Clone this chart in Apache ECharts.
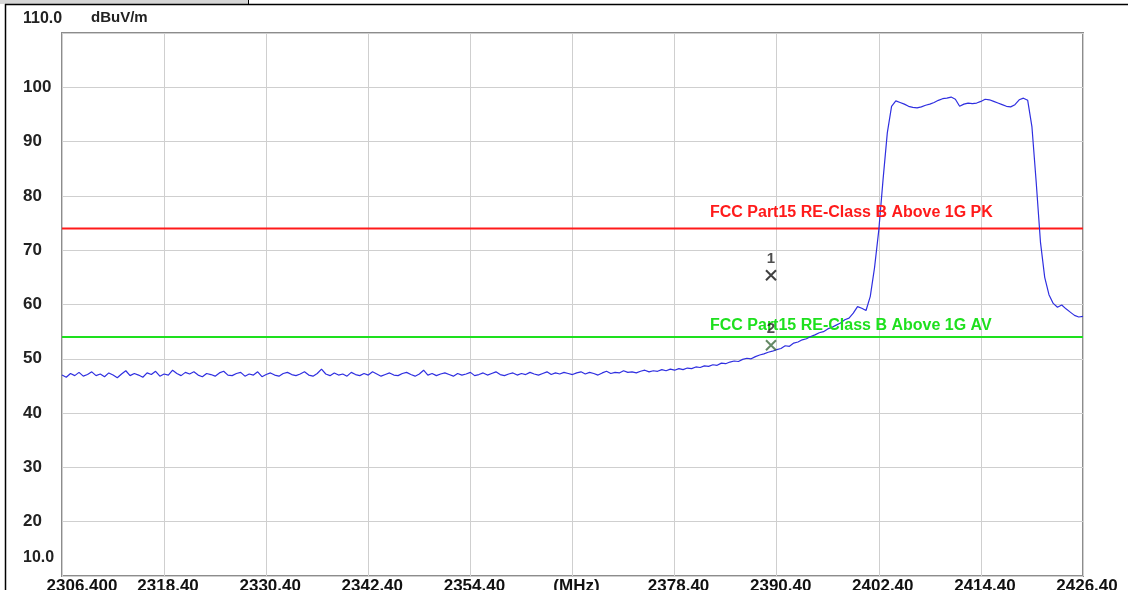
<!DOCTYPE html>
<html>
<head>
<meta charset="utf-8">
<title>FCC Part15 RE</title>
<script src="https://cdn.jsdelivr.net/npm/echarts@6/dist/echarts.min.js"></script>
<style>
  html, body { margin: 0; padding: 0; background: #fff; }
  #chart { width: 1128px; height: 590px; }
</style>
</head>
<body>
<div id="chart"></div>
<script>
// sweep: 2306.4 MHz .. 2426.4 MHz, 0.5 MHz per point
var START_FREQ = 2306.4;
var STEP = 0.5;
var SPAN = 120;

// trace levels (dBuV/m)
var levels = [
  47.0, 46.6, 47.3, 46.9, 47.5, 46.8, 47.1, 47.6, 46.9, 47.2,
  46.7, 47.4, 47.0, 46.5, 47.2, 47.8, 46.9, 47.3, 47.0, 46.6,
  47.4, 47.1, 47.7, 46.8, 47.2, 47.0, 47.9, 47.3, 46.9, 47.5,
  47.2, 47.6, 47.0, 46.7, 47.3, 47.1, 46.8, 47.4, 47.7, 47.0,
  46.9, 47.3, 47.5, 46.8, 47.2, 47.0, 47.6, 46.7, 47.1, 47.4,
  47.0, 46.8, 47.3, 47.5, 47.1, 46.9, 47.2, 47.6, 47.0, 46.8,
  47.3, 48.1, 47.2, 46.9, 47.4, 47.0, 47.2, 46.8, 47.5, 47.1,
  46.9, 47.3, 47.0, 47.6, 47.2, 46.8, 47.1, 47.4, 47.0, 46.9,
  47.3, 47.5, 47.1, 46.8, 47.2, 47.9, 47.0, 47.3, 46.9, 47.2,
  47.4, 47.1, 46.8, 47.3, 47.0, 47.2, 47.5, 46.9, 47.1, 47.4,
  47.0, 47.3, 47.6, 47.1, 46.9, 47.2, 47.4, 47.0, 47.3, 47.1,
  47.5, 47.2, 47.0, 47.3, 47.6, 47.1, 47.4, 47.2, 47.5, 47.3,
  47.1, 47.4, 47.6, 47.2, 47.5, 47.3, 47.0, 47.4, 47.7, 47.3,
  47.5, 47.4, 47.8, 47.5, 47.6, 47.4, 47.7, 47.9, 47.6, 47.8,
  47.7, 48.0, 47.8, 48.1, 47.9, 48.2, 48.0, 48.3,
  48.2, 48.5, 48.4, 48.7, 48.6, 48.9, 48.8, 49.2, 49.1, 49.4,
  49.6, 49.5, 49.9, 50.1, 50.0, 50.4, 50.7, 50.9, 51.2, 51.4,
  51.7, 51.9, 52.4, 52.3, 52.9, 53.1, 53.5, 53.7, 54.1, 54.4,
  54.8, 55.0, 55.5, 55.8, 56.2, 56.6, 57.2, 57.5, 58.4, 59.6,
  59.3, 58.9, 61.5, 66.8,
  73.7, 83.0, 91.6, 96.5, 97.5, 97.2, 96.9, 96.5, 96.3, 96.2,
  96.4, 96.7, 96.9, 97.2, 97.6, 97.9, 98.0, 98.2, 97.8, 96.5,
  96.9, 97.1, 97.0, 97.1, 97.4, 97.8, 97.7, 97.4, 97.1, 96.8,
  96.5, 96.4, 96.8, 97.7, 98.0, 97.6, 92.7, 82.5, 71.5, 65.0,
  61.8, 60.2, 59.5, 59.9, 59.2, 58.6, 58.0, 57.7, 57.8
];

var limitPK = 74;
var limitAV = 54;

// markers: [freq MHz, level]
var marker1 = [2389.73, 65.4];
var marker2 = [2389.73, 52.5];

var font = "Arial, 'Liberation Sans', sans-serif";

var chart = echarts.init(document.getElementById("chart"));

var trace = levels.map(function (v, i) {
  return [i * STEP, v];
});

var option = {
  backgroundColor: "#fff",
  animation: false,
  grid: {
    left: 62,
    right: 45,
    top: 33,
    bottom: 14,
    containLabel: false,
    outerBoundsMode: "none",
    show: true,
    backgroundColor: "#fff",
    borderColor: "#8c8c8c",
    borderWidth: 2
  },
  xAxis: {
    type: "value",
    min: 0,
    max: SPAN,
    interval: 12,
    axisLine: { show: false },
    axisTick: { show: false },
    splitLine: { show: true, lineStyle: { color: "#cfcfcf", width: 1 } },
    axisLabel: {
      margin: 2,
      fontSize: 17,
      fontWeight: "bold",
      fontFamily: font,
      color: "#111",
      padding: [0, 0, 0, 8],
      showMinLabel: true,
      showMaxLabel: true,
      formatter: function (v) {
        if (v === 0) return "{first|2306.400}";
        if (v === 60) return "(MHz)";
        return (START_FREQ + v).toFixed(2);
      },
      rich: {
        first: { fontSize: 17, fontWeight: "bold", fontFamily: font, color: "#111", padding: [0, 0, 0, 32] }
      }
    }
  },
  yAxis: {
    type: "value",
    min: 10,
    max: 110,
    interval: 10,
    axisLine: { show: false },
    axisTick: { show: false },
    splitLine: { show: true, lineStyle: { color: "#cfcfcf", width: 1 } },
    axisLabel: {
      align: "left",
      margin: 39,
      fontSize: 17,
      fontWeight: "bold",
      fontFamily: font,
      color: "#222",
      formatter: function (v) {
        if (v === 10 || v === 110) return "";
        return String(v);
      }
    }
  },
  series: [
    {
      name: "PK limit",
      type: "line",
      symbol: "none",
      data: [[0, limitPK], [SPAN, limitPK]],
      lineStyle: { color: "#ff1a1a", width: 2 },
      markPoint: {
        symbol: "circle",
        symbolSize: 0,
        data: [{ coord: [2382.56 - START_FREQ, 77.0] }],
        label: {
          show: true,
          position: "right",
          distance: 0,
          formatter: "FCC Part15 RE-Class B Above 1G PK",
          fontSize: 16,
          fontWeight: "bold",
          fontFamily: font,
          color: "#ff1a1a"
        }
      }
    },
    {
      name: "AV limit",
      type: "line",
      symbol: "none",
      data: [[0, limitAV], [SPAN, limitAV]],
      lineStyle: { color: "#1ee01e", width: 2 },
      markPoint: {
        symbol: "circle",
        symbolSize: 0,
        data: [{ coord: [2382.56 - START_FREQ, 56.2] }],
        label: {
          show: true,
          position: "right",
          distance: 0,
          formatter: "FCC Part15 RE-Class B Above 1G AV",
          fontSize: 16,
          fontWeight: "bold",
          fontFamily: font,
          color: "#1ee01e"
        }
      }
    },
    {
      name: "trace",
      type: "line",
      symbol: "none",
      data: trace,
      lineStyle: { color: "#2f2fe0", width: 1.2 },
      z: 3
    },
    {
      name: "markers",
      type: "scatter",
      symbol: "path://M0,0L10,10M10,0L0,10",
      symbolSize: 10,
      z: 5,
      data: [
        {
          value: [marker1[0] - START_FREQ, marker1[1]],
          itemStyle: { color: "none", borderColor: "#111", borderWidth: 2 },
          label: { formatter: "1" }
        },
        {
          value: [marker2[0] - START_FREQ, marker2[1]],
          itemStyle: { color: "none", borderColor: "#3f6b3f", borderWidth: 2 },
          label: { formatter: "2" }
        }
      ],
      label: {
        show: true,
        position: "top",
        distance: 1,
        fontSize: 15,
        fontWeight: "bold",
        fontFamily: font,
        color: "#222"
      }
    }
  ],
  graphic: [
    { type: "rect", shape: { x: 0, y: 0, width: 248, height: 4 }, style: { fill: "#d6d6d6" }, silent: true },
    { type: "line", shape: { x1: 248.5, y1: 0, x2: 248.5, y2: 4 }, style: { stroke: "#000", lineWidth: 1 }, silent: true },
    { type: "line", shape: { x1: 5, y1: 4.5, x2: 1128, y2: 4.5 }, style: { stroke: "#000", lineWidth: 1.5 }, silent: true },
    { type: "line", shape: { x1: 5.5, y1: 4, x2: 5.5, y2: 590 }, style: { stroke: "#000", lineWidth: 1.5 }, silent: true },
    {
      type: "text", left: 23, top: 11,
      style: { text: "110.0", font: "bold 16px " + font, fill: "#222" }
    },
    {
      type: "text", left: 91, top: 10,
      style: { text: "dBuV/m", font: "bold 15px " + font, fill: "#222" }
    },
    {
      type: "text", left: 23, top: 550,
      style: { text: "10.0", font: "bold 16px " + font, fill: "#222" }
    }
  ]
};

chart.setOption(option);
window.addEventListener("resize", function () {
  chart.resize();
});
</script>
</body>
</html>
